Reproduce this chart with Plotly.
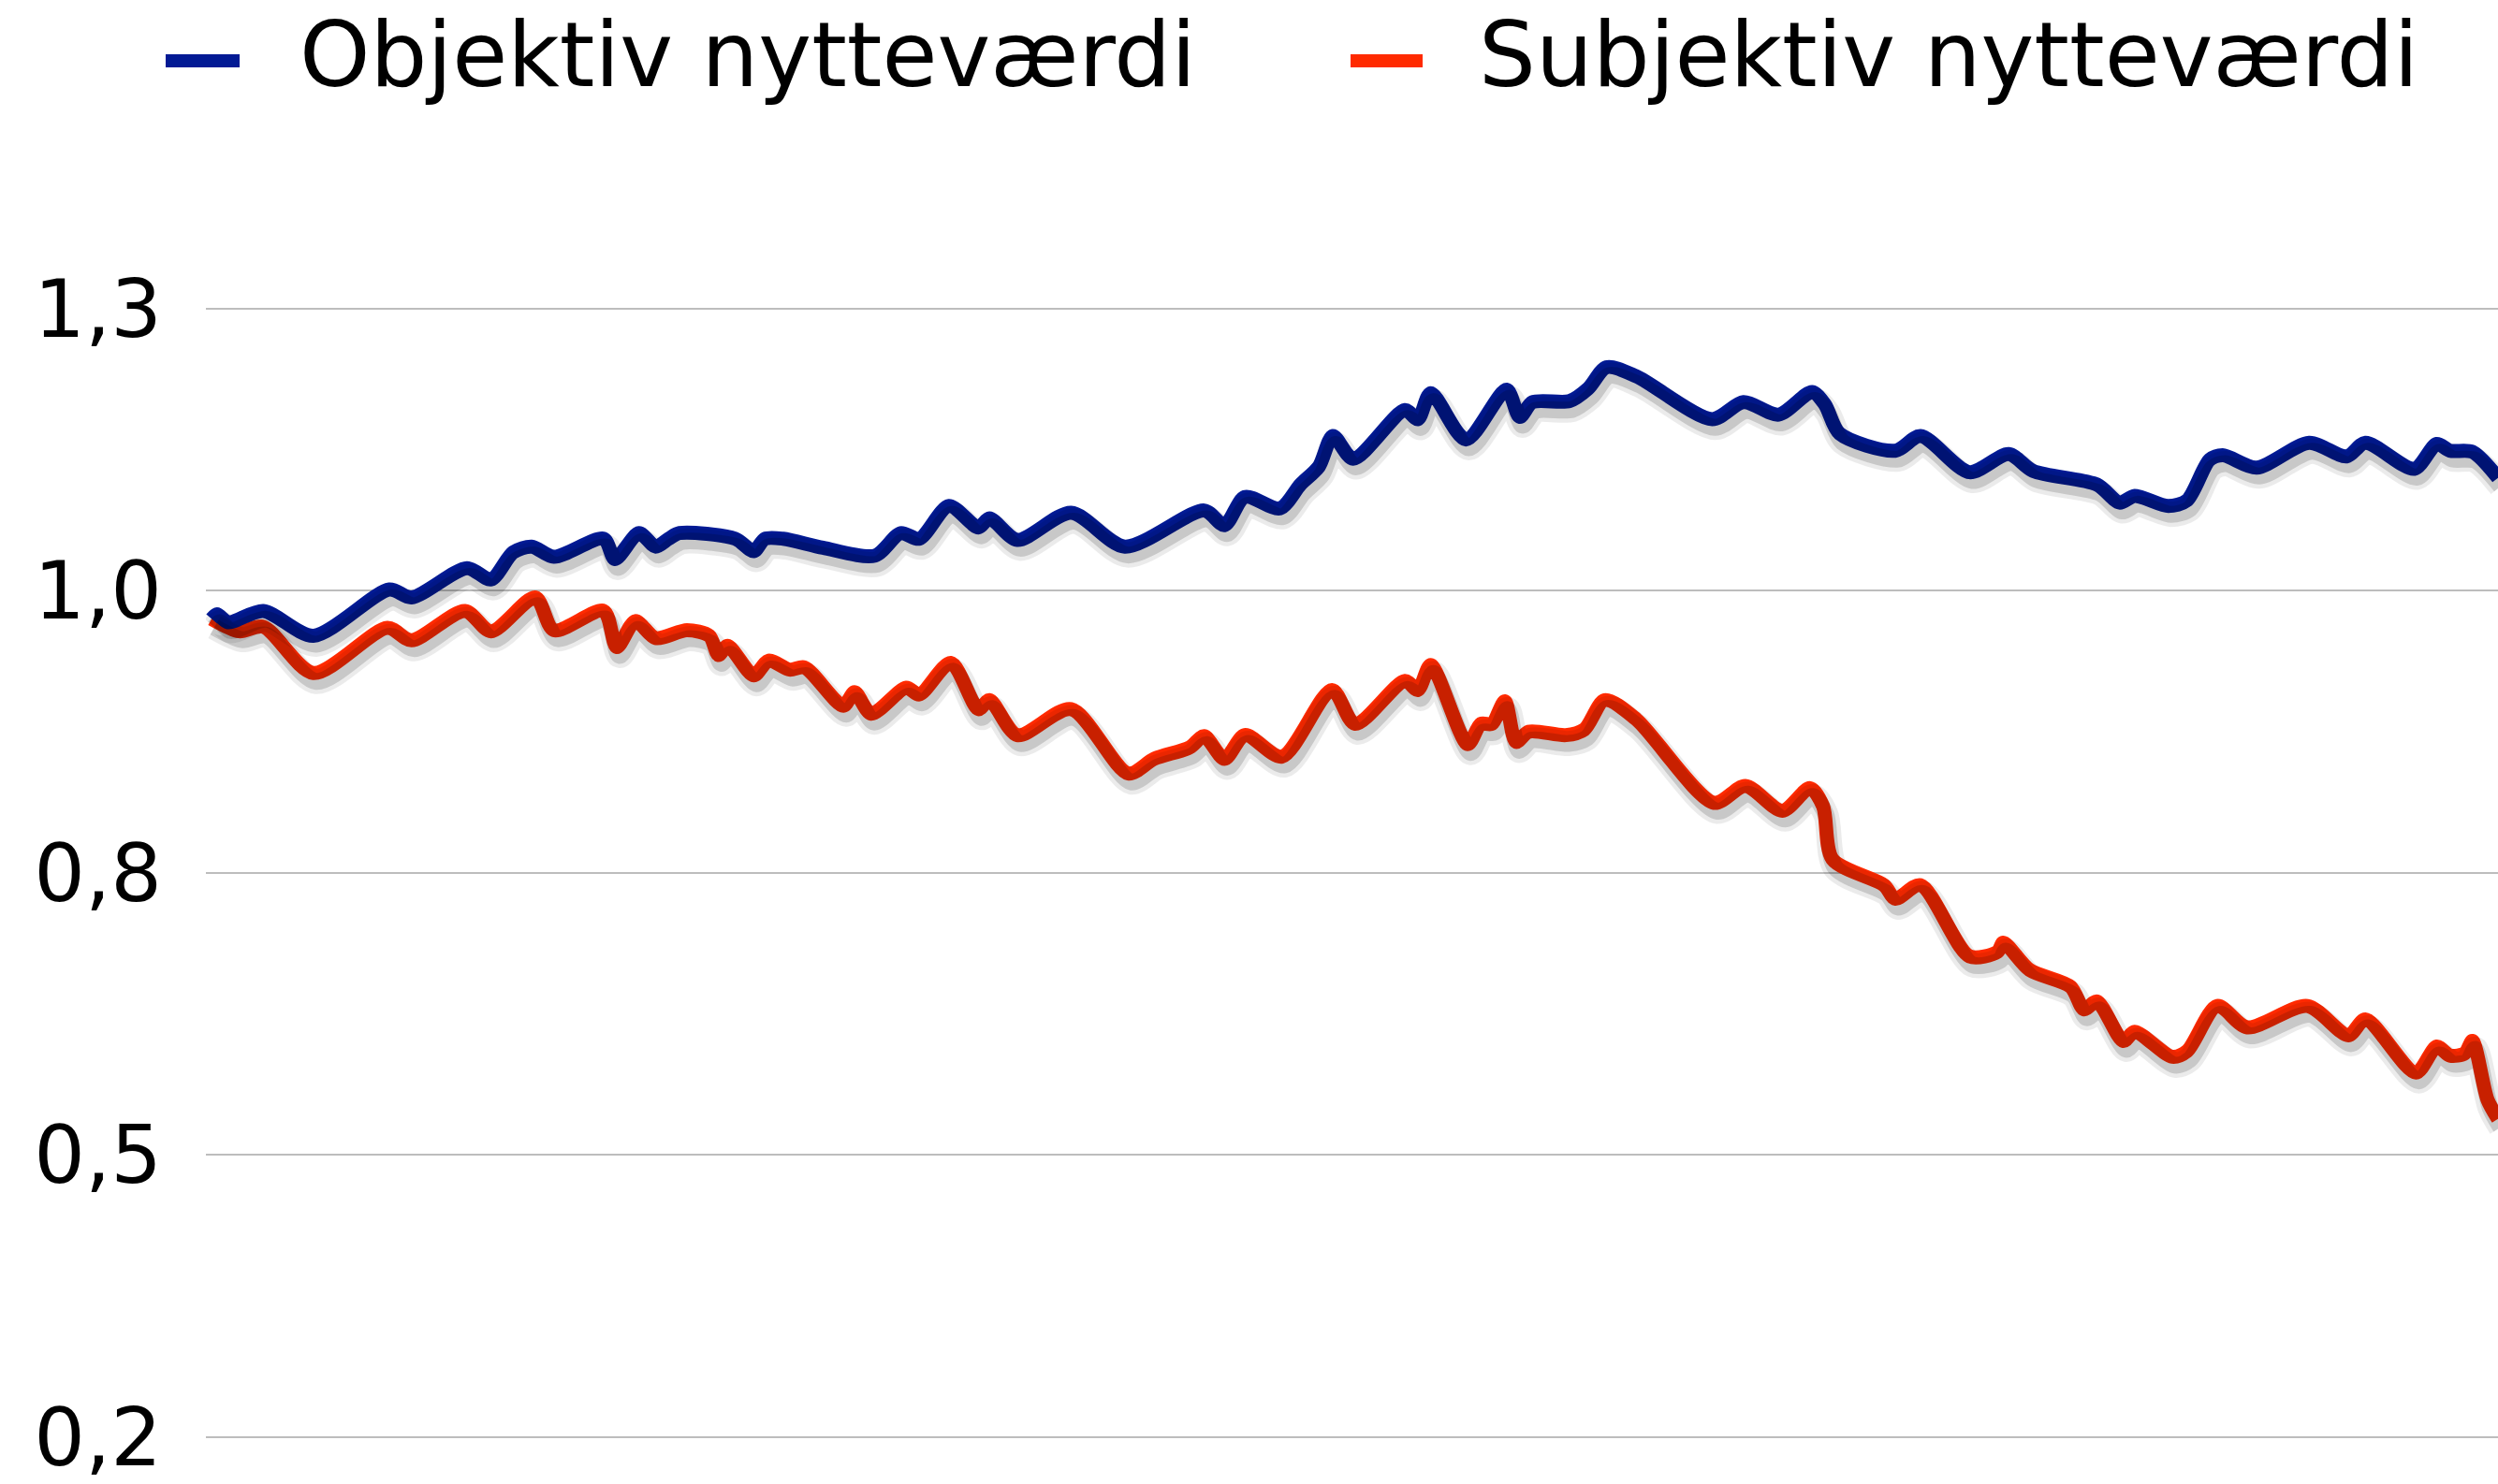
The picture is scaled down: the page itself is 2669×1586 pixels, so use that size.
import plotly.graph_objects as go

# ---- data (x = relative time position 0..100, y = utility index) ----
obj_x = [0.0, 0.24, 0.72, 2.26, 4.45, 7.77, 8.74, 11.17, 12.22, 13.19, 14.0, 14.97,
         17.15, 17.64, 18.69, 19.42, 19.99, 20.47, 22.9, 23.71, 24.2, 25.0, 26.74,
         29.01, 30.14, 30.95, 32.25, 33.54, 34.02, 35.24, 37.59, 39.94, 43.41, 44.3,
         45.19, 46.73, 47.62, 48.43, 49.04, 49.93, 52.19, 52.76, 53.32, 54.86, 56.64,
         57.21, 57.77, 59.39, 60.2, 61.01, 62.31, 65.63, 67.0, 68.54, 70.0, 70.56,
         71.21, 73.64, 74.74, 76.88, 78.6, 79.67, 82.46, 83.45, 84.11, 85.58, 86.4,
         87.39, 87.96, 89.44, 91.74, 93.38, 94.2, 96.34, 97.32, 97.9, 98.88, 100.0]
obj_y = [0.975, 0.979, 0.972, 0.982, 0.960, 1.001, 0.994, 1.020, 1.010, 1.034, 1.039, 1.030,
         1.046, 1.028, 1.051, 1.039, 1.046, 1.051, 1.046, 1.035, 1.046, 1.046, 1.038,
         1.031, 1.051, 1.046, 1.075, 1.056, 1.064, 1.045, 1.069, 1.039, 1.071, 1.058,
         1.083, 1.073, 1.094, 1.110, 1.137, 1.117, 1.160, 1.152, 1.175, 1.134, 1.178,
         1.154, 1.167, 1.168, 1.179, 1.198, 1.190, 1.152, 1.167, 1.156, 1.176, 1.165,
         1.139, 1.124, 1.137, 1.105, 1.121, 1.106, 1.094, 1.078, 1.084, 1.075, 1.080,
         1.116, 1.120, 1.109, 1.131, 1.119, 1.131, 1.108, 1.130, 1.124, 1.123, 1.100]

subj_x = [0.0, 1.21, 2.26, 4.45, 7.69, 8.74, 11.08, 12.22, 14.16, 14.97, 17.15, 17.72,
          18.53, 19.42, 20.79, 21.77, 22.17, 22.57, 23.71, 24.36, 25.28, 25.93, 27.63,
          28.12, 28.85, 30.38, 30.95, 32.33, 33.54, 34.02, 35.24, 37.59, 40.09, 41.23,
          42.77, 43.41, 44.3, 45.19, 46.81, 49.0, 50.01, 52.19, 52.76, 53.32, 54.94,
          55.51, 56.0, 56.56, 57.05, 57.61, 59.23, 60.04, 60.93, 62.31, 65.71, 67.08,
          68.7, 69.91, 70.48, 70.89, 73.15, 73.64, 74.74, 76.88, 78.11, 78.36, 79.51,
          81.31, 81.89, 82.46, 83.61, 84.11, 85.75, 86.4, 87.72, 89.03, 91.66, 93.46,
          94.2, 96.41, 97.32, 97.9, 98.55, 98.88, 99.54, 100.0]
subj_y = [0.975, 0.964, 0.968, 0.927, 0.967, 0.956, 0.982, 0.964, 0.994, 0.965, 0.982, 0.950,
          0.973, 0.958, 0.965, 0.960, 0.943, 0.951, 0.925, 0.938, 0.930, 0.932, 0.898,
          0.910, 0.891, 0.914, 0.908, 0.936, 0.895, 0.903, 0.872, 0.895, 0.838, 0.851,
          0.861, 0.871, 0.851, 0.872, 0.853, 0.912, 0.882, 0.920, 0.912, 0.934, 0.864,
          0.882, 0.882, 0.902, 0.866, 0.875, 0.872, 0.877, 0.903, 0.886, 0.812, 0.827,
          0.805, 0.825, 0.809, 0.762, 0.739, 0.727, 0.739, 0.676, 0.680, 0.688, 0.664,
          0.649, 0.629, 0.636, 0.601, 0.609, 0.587, 0.592, 0.632, 0.613, 0.632, 0.606,
          0.620, 0.573, 0.596, 0.588, 0.590, 0.601, 0.549, 0.532]

series_names = ["Objektiv nytteværdi", "Subjektiv nytteværdi"]
tick_vals = [0.25, 0.5, 0.75, 1.0, 1.25]
tick_text = ["0,2", "0,5", "0,8", "1,0", "1,3"]

# ---- styling ----
BLUE = "#021a94"
RED = "#ff2a00"
FONT = "DejaVu Sans"
Y_RANGE = [0.22, 1.37]
X_RANGE = [-0.25, 100]
M_T, M_B, M_L = 185, 3, 220
PLOT_H = 1586 - M_T - M_B
PLOT_W = 2669 - M_L
SH_DY = 9 / PLOT_H * (Y_RANGE[1] - Y_RANGE[0])   # shadow offset down
SH_DX = 3 / PLOT_W * (X_RANGE[1] - X_RANGE[0])   # shadow offset right
LINE_W = 15

fig = go.Figure()

# soft drop shadows (same data, drawn on slightly shifted overlay axes)
for xs, ys in [(subj_x, subj_y), (obj_x, obj_y)]:
    fig.add_trace(go.Scatter(x=xs, y=ys, mode="lines", xaxis="x2", yaxis="y2",
                             line=dict(color="rgba(0,0,0,0.08)", width=27,
                                       shape="spline", smoothing=0.8),
                             hoverinfo="skip", showlegend=False))
    fig.add_trace(go.Scatter(x=xs, y=ys, mode="lines", xaxis="x2", yaxis="y2",
                             line=dict(color="rgba(0,0,0,0.15)", width=18,
                                       shape="spline", smoothing=0.8),
                             hoverinfo="skip", showlegend=False))

fig.add_trace(go.Scatter(x=subj_x, y=subj_y, mode="lines", name=series_names[1],
                         line=dict(color=RED, width=LINE_W, shape="spline", smoothing=0.8),
                         showlegend=False))
fig.add_trace(go.Scatter(x=obj_x, y=obj_y, mode="lines", name=series_names[0],
                         line=dict(color=BLUE, width=LINE_W, shape="spline", smoothing=0.8),
                         showlegend=False))

# manual legend (long thick swatches like the reference)
def px_x(p):
    return (p - M_L) / PLOT_W

def px_y(p):
    return (1586 - M_B - p) / PLOT_H

legend_items = [(series_names[0], BLUE, 177, 256, 318),
                (series_names[1], RED, 1443, 1520, 1578)]
for name, col, s0, s1, tx in legend_items:
    fig.add_shape(type="line", xref="paper", yref="paper",
                  x0=px_x(s0), x1=px_x(s1), y0=px_y(64), y1=px_y(64),
                  line=dict(color=col, width=14))
    fig.add_annotation(text=name, xref="paper", yref="paper",
                       x=px_x(tx), y=px_y(58), xanchor="left", yanchor="middle",
                       showarrow=False, font=dict(family=FONT, size=96, color="black"))

fig.update_layout(
    width=2669, height=1586,
    margin=dict(l=M_L, r=0, t=M_T, b=M_B),
    paper_bgcolor="white", plot_bgcolor="white",
    showlegend=False,
    xaxis=dict(range=X_RANGE, visible=False, showgrid=False, zeroline=False),
    xaxis2=dict(range=[X_RANGE[0] - SH_DX, X_RANGE[1] - SH_DX], overlaying="x",
                visible=False, showgrid=False, zeroline=False),
    yaxis=dict(range=Y_RANGE, tickvals=tick_vals, ticktext=tick_text,
               showgrid=True, gridcolor="#bdbdbd", gridwidth=2, zeroline=False,
               showline=False, ticks="", ticklabelstandoff=46,
               ticklabeloverflow="allow",
               tickfont=dict(family=FONT, size=86, color="black")),
    yaxis2=dict(range=[Y_RANGE[0] + SH_DY, Y_RANGE[1] + SH_DY], overlaying="y",
                visible=False, showgrid=False, zeroline=False),
)

fig.write_html("out.html", config={"displayModeBar": False},
               post_script="document.body.style.margin='0';document.body.style.overflow='hidden';")
